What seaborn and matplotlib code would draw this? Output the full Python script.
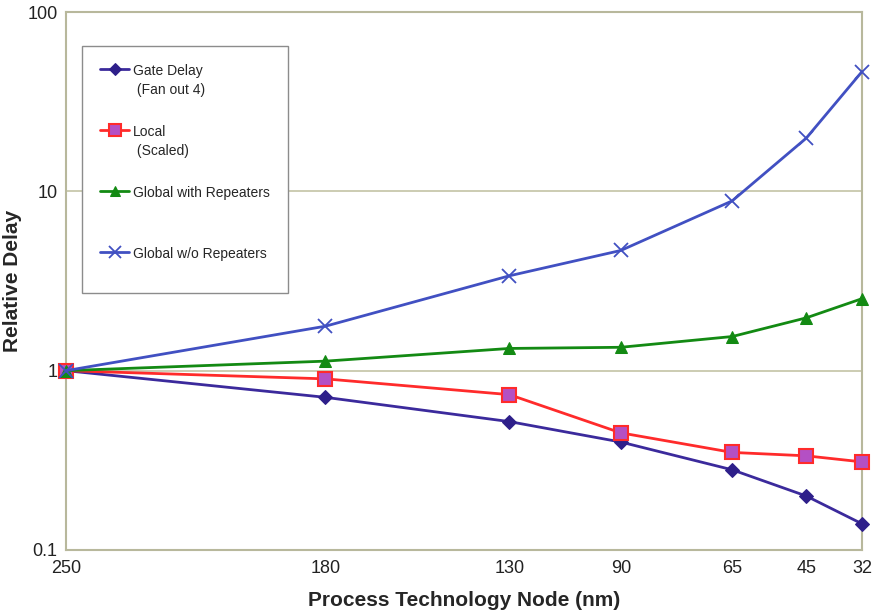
import numpy as np
import pandas as pd
import seaborn as sns
import matplotlib.pyplot as plt

# process nodes and their spacing along the x axis
nodes = ["250", "180", "130", "90", "65", "45", "32"]
node_pos = [0.0, 3.26, 5.57, 6.97, 8.37, 9.30, 10.0]

gate_delay = [1.0, 0.71, 0.52, 0.40, 0.28, 0.20, 0.14]
local_scaled = [1.0, 0.90, 0.735, 0.45, 0.35, 0.335, 0.31]
global_rep = [1.0, 1.13, 1.33, 1.35, 1.55, 1.97, 2.52]
global_norep = [1.0, 1.77, 3.38, 4.68, 8.85, 19.8, 46.5]

labels = ["Gate Delay\n (Fan out 4)", "Local\n (Scaled)",
          "Global with Repeaters\n ", "Global w/o Repeaters\n "]

sns.set_style("white")
plt.rcParams["font.family"] = ["Liberation Sans", "DejaVu Sans"]

fig = plt.figure(figsize=(8.81, 6.13), dpi=100)
ax = fig.add_axes([0.0749, 0.1028, 0.9035, 0.8776])

series = [
    (gate_delay, dict(color="#3b2a9c", marker="D", markersize=7,
                      markerfacecolor="#2e1f8a", markeredgecolor="#2e1f8a")),
    (local_scaled, dict(color="#ff2b2b", marker="s", markersize=10.5,
                        markerfacecolor="#b450c4", markeredgecolor="#ff2b2b",
                        markeredgewidth=1.5)),
    (global_rep, dict(color="#138a13", marker="^", markersize=9,
                      markerfacecolor="#138a13", markeredgecolor="#138a13")),
    (global_norep, dict(color="#4150c2", marker="x", markersize=10,
                        markeredgecolor="#4150c2", markeredgewidth=1.3)),
]

for (vals, style), lab in zip(series, labels):
    sns.lineplot(x=node_pos, y=vals, ax=ax, label=lab, linewidth=2.0,
                 clip_on=False, zorder=5, **style)

ax.set_yscale("log")
ax.set_ylim(0.1, 100)
ax.set_xlim(0, 10)
ax.set_yticks([0.1, 1, 10, 100])
ax.set_yticklabels(["0.1", "1", "10", "100"])
ax.yaxis.set_minor_locator(plt.NullLocator())
ax.set_xticks(node_pos)
ax.set_xticklabels(nodes)
ax.tick_params(axis="both", length=0, labelsize=13, colors="#222222")
ax.tick_params(axis="y", pad=6)
ax.tick_params(axis="x", pad=7)

ax.grid(axis="y", which="major", color="#c4c4a6", linewidth=1.2)
ax.grid(axis="x", visible=False)
for sp in ax.spines.values():
    sp.set_color("#b8b89c")
    sp.set_linewidth(1.5)

ax.set_xlabel("Process Technology Node (nm)", fontsize=15, fontweight="bold",
              labelpad=10)
ax.set_ylabel("Relative Delay", fontsize=15, fontweight="bold", labelpad=4)

leg = ax.legend(loc="upper left", bbox_to_anchor=(0.020, 0.937),
                borderaxespad=0, fontsize=10, frameon=True, fancybox=False,
                edgecolor="#8c8c8c", framealpha=1, handlelength=2.1,
                handletextpad=0.3, borderpad=1.3, labelspacing=2.02,
                markerscale=0.85)
leg.get_frame().set_linewidth(1.0)
texts = leg.get_texts()
for t in texts:
    t.set_linespacing(1.45)
texts[-1].set_linespacing(1.0)
for col in leg._legend_handle_box.get_children():
    for row in col.get_children():
        row.align = "top"

fig.savefig("out.png", dpi=100)
